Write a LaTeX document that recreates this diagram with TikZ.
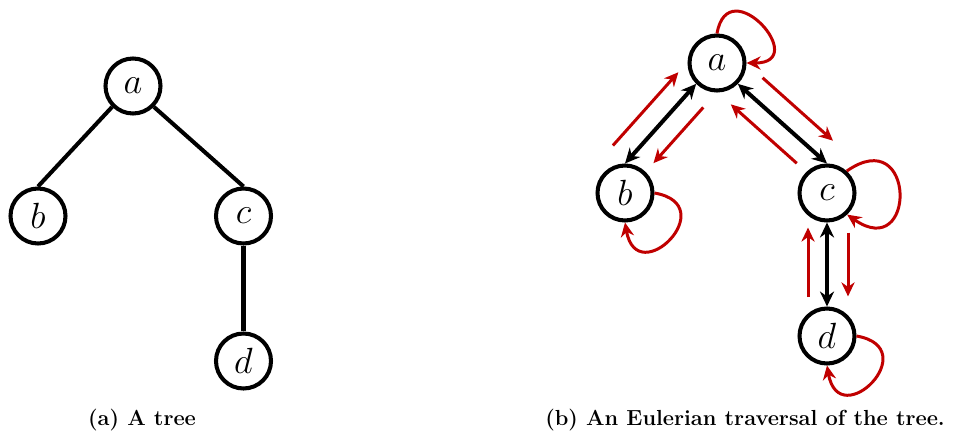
\documentclass[tikz,border=0pt]{standalone}
\usepackage{tikz}
\usetikzlibrary{calc, arrows.meta}
\definecolor{trailred}{RGB}{192,0,0}

\begin{document}
\begin{tikzpicture}[
        vertex/.style={circle, draw, line width=2.3pt, minimum size=1.1cm, inner sep=0pt,
            font=\fontsize{21}{24}\selectfont},
        treeedge/.style={line width=2.3pt},
        biedge/.style={line width=2.3pt,
            {Stealth[length=8.5pt,width=8pt]}-{Stealth[length=8.5pt,width=8pt]}},
        trail/.style={trailred, line width=1.7pt, -{Stealth[length=8pt,width=7.5pt]}},
        caption/.style={font=\bfseries\fontsize{12.4}{14}\selectfont}
    ]
    \useasboundingbox (0,0) rectangle (19.12,8.68);

    % (a) plain tree
    \node[vertex] (ta) at (2.66,6.96) {$a$};
    \node[vertex] (tb) at (0.76,4.36) {$b$};
    \node[vertex] (tc) at (4.87,4.36) {$c$};
    \node[vertex] (td) at (4.87,1.46) {$d$};
    \draw[treeedge] (ta.south west) -- (tb.north);
    \draw[treeedge] (ta.south east) -- (tc.north);
    \draw[treeedge] (tc.south) -- (td.north);

    % (b) same tree, edges in both directions
    \node[vertex] (ea) at (14.34,7.42) {$a$};
    \node[vertex] (eb) at (12.5,4.82) {$b$};
    \node[vertex] (ec) at (16.54,4.82) {$c$};
    \node[vertex] (ed) at (16.54,1.96) {$d$};
    \draw[biedge] (ea.south west) -- (eb.north);
    \draw[biedge] (ea.south east) -- (ec.north);
    \draw[biedge] (ec.south) -- (ed.north);

    % walk down and up along each edge
    \draw[trail] ($(ea.south west)!0.12!(eb.north)!0.42cm!90:(eb.north)$) -- ($(ea.south west)!0.82!(eb.north)!0.42cm!90:(eb.north)$);
    \draw[trail] ($(eb.north)!0.05!(ea.south west)!0.42cm!90:(ea.south west)$) -- ($(eb.north)!0.97!(ea.south west)!0.42cm!90:(ea.south west)$);
    \draw[trail] ($(ea.south east)!0.12!(ec.north)!0.42cm!90:(ec.north)$) -- ($(ea.south east)!0.91!(ec.north)!0.42cm!90:(ec.north)$);
    \draw[trail] ($(ec.north)!0.19!(ea.south east)!0.4cm!90:(ea.south east)$) -- ($(ec.north)!0.93!(ea.south east)!0.4cm!90:(ea.south east)$);
    \draw[trail] ($(ec.south)!0.12!(ed.north)!0.42cm!90:(ed.north)$) -- ($(ec.south)!0.88!(ed.north)!0.42cm!90:(ed.north)$);
    \draw[trail] ($(ed.north)!0.11!(ec.south)!0.38cm!90:(ec.south)$) -- ($(ed.north)!0.94!(ec.south)!0.38cm!90:(ec.south)$);

    % self loops at every vertex
    \draw[trail] (ea.north) to[out=80, in=0, distance=1.3cm] (ea.east);
    \draw[trail] (eb.east) to[out=-10, in=-80, distance=1.4cm] (eb.south);
    \draw[trail] (ec.48) to[out=35, in=-35, distance=1.7cm] (ec.-47);
    \draw[trail] (ed.east) to[out=-10, in=-80, distance=1.4cm] (ed.south);

    % captions
    \node[caption] (capa) at (2.84,0.28) {(a) A tree};
    \node[caption] (capb) at (14.9,0.28) {(b) An Eulerian traversal of the tree.};
\end{tikzpicture}
\end{document}
